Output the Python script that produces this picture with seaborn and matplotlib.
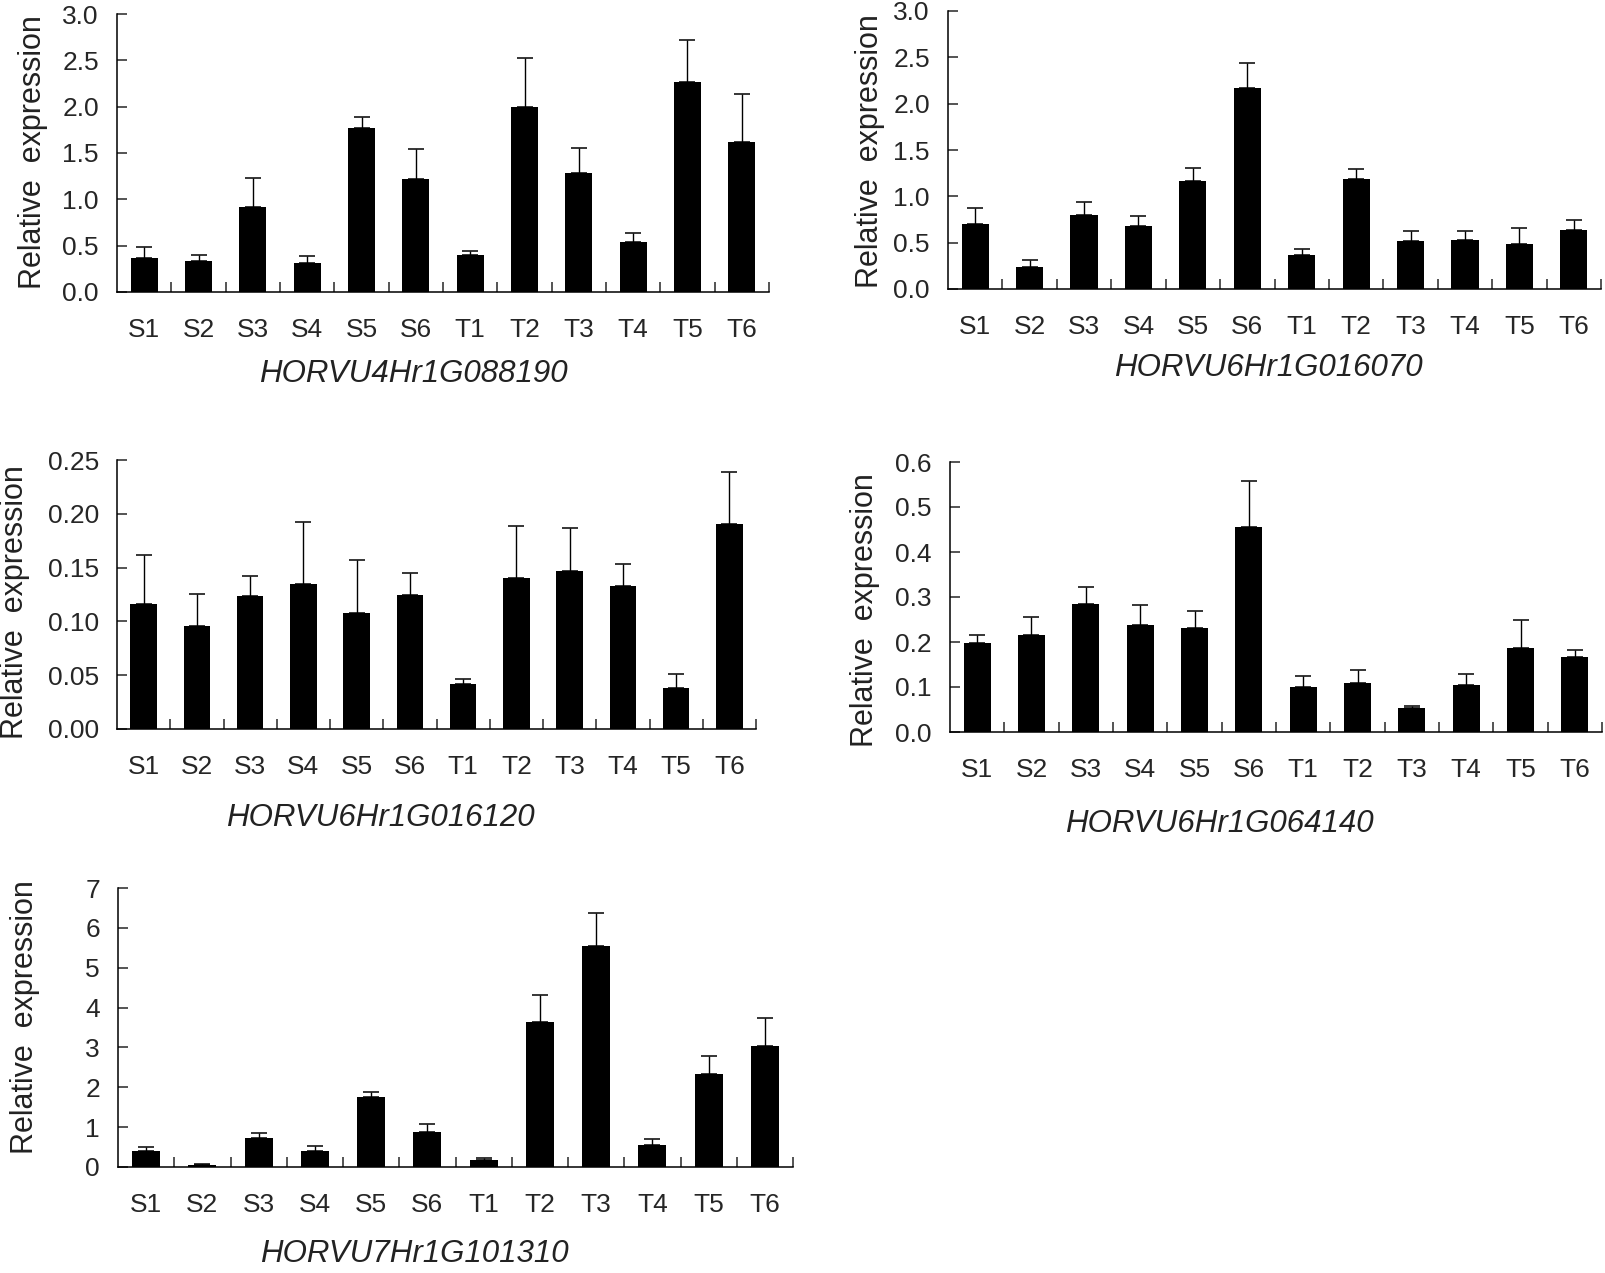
import numpy as np
import matplotlib
matplotlib.use("Agg")
import matplotlib.pyplot as plt
import seaborn as sns

sns.set_style("ticks")
plt.rcParams['font.family'] = ['Liberation Sans', 'DejaVu Sans']

# sample names shared by all panels
samples = ['S1', 'S2', 'S3', 'S4', 'S5', 'S6', 'T1', 'T2', 'T3', 'T4', 'T5', 'T6']

# HORVU4Hr1G088190
g1_mean = [0.365, 0.333, 0.913, 0.312, 1.772, 1.217, 0.397, 1.998, 1.289, 0.537, 2.270, 1.622]
g1_sd = [0.120, 0.070, 0.320, 0.075, 0.120, 0.330, 0.047, 0.530, 0.270, 0.100, 0.445, 0.510]

# HORVU6Hr1G016070
g2_mean = [0.700, 0.240, 0.797, 0.675, 1.163, 2.174, 0.370, 1.184, 0.513, 0.531, 0.484, 0.639]
g2_sd = [0.175, 0.070, 0.145, 0.115, 0.140, 0.260, 0.065, 0.110, 0.110, 0.100, 0.170, 0.107]

# HORVU6Hr1G016120
g3_mean = [0.116, 0.0955, 0.1236, 0.1347, 0.1075, 0.1242, 0.042, 0.140, 0.147, 0.1332, 0.0377, 0.1904]
g3_sd = [0.046, 0.030, 0.019, 0.058, 0.050, 0.021, 0.0044, 0.049, 0.040, 0.020, 0.0136, 0.0485]

# HORVU6Hr1G064140
g4_mean = [0.198, 0.215, 0.285, 0.237, 0.232, 0.455, 0.100, 0.110, 0.053, 0.104, 0.186, 0.166]
g4_sd = [0.017, 0.040, 0.037, 0.046, 0.036, 0.102, 0.025, 0.027, 0.005, 0.024, 0.062, 0.016]

# HORVU7Hr1G101310
g5_mean = [0.41, 0.04, 0.735, 0.41, 1.746, 0.886, 0.175, 3.64, 5.556, 0.56, 2.34, 3.04]
g5_sd = [0.08, 0.03, 0.115, 0.12, 0.125, 0.19, 0.05, 0.67, 0.82, 0.14, 0.44, 0.69]

W, H = 1605, 1273
fig = plt.figure(figsize=(W / 100, H / 100), dpi=100)


def px_axes(left, top, right, bottom):
    return fig.add_axes([left / W, 1 - bottom / H, (right - left) / W, (bottom - top) / H])


def draw_panel(ax, means, sds, yticks, fmt, title, title_xy, ylab_xy):
    sns.barplot(x=samples, y=means, color='black', saturation=1, width=0.5,
                errorbar=None, ax=ax, edgecolor='none')
    x = np.arange(len(samples))
    ax.errorbar(x, means, yerr=[np.zeros(len(means)), sds], fmt='none',
                ecolor='black', elinewidth=1.0, capsize=6, capthick=1.1)
    ax.set_xlim(-0.5, len(samples) - 0.5)
    ax.set_ylim(yticks[0], yticks[-1])
    ax.set_yticks(yticks)
    ax.set_yticklabels([fmt.format(v) for v in yticks])
    ax.set_xticks(x + 0.5, minor=True)
    ax.tick_params(axis='x', which='major', length=0, pad=19, labelsize=19)
    ax.tick_params(axis='x', which='minor', direction='in', length=7, width=1.1)
    ax.tick_params(axis='y', direction='in', length=7, width=1.1, pad=13, labelsize=19)
    sns.despine(ax=ax)
    for s in ['left', 'bottom']:
        ax.spines[s].set_linewidth(1.1)
        ax.spines[s].set_color('black')
    ax.set_xlabel('')
    ax.set_ylabel('')
    fig.text(ylab_xy[0] / W, 1 - ylab_xy[1] / H, 'Relative  expression', rotation=90,
             ha='center', va='center', fontsize=22, color='#222222')
    fig.text(title_xy[0] / W, 1 - title_xy[1] / H, title, style='italic',
             ha='center', va='center', fontsize=22.5, color='#222222')


ax1 = px_axes(117, 14, 769, 292)
draw_panel(ax1, g1_mean, g1_sd, np.arange(0, 3.01, 0.5), '{:.1f}',
           'HORVU4Hr1G088190', (413, 374), (33, 152))

ax2 = px_axes(948, 11, 1601, 289)
draw_panel(ax2, g2_mean, g2_sd, np.arange(0, 3.01, 0.5), '{:.1f}',
           'HORVU6Hr1G016070', (1268, 368), (870, 151))

ax3 = px_axes(117, 460, 756, 729)
draw_panel(ax3, g3_mean, g3_sd, np.arange(0, 0.2501, 0.05), '{:.2f}',
           'HORVU6Hr1G016120', (380, 818), (15, 602))

ax4 = px_axes(950, 462, 1602, 732)
draw_panel(ax4, g4_mean, g4_sd, np.arange(0, 0.601, 0.1), '{:.1f}',
           'HORVU6Hr1G064140', (1219, 824), (865, 610))

ax5 = px_axes(118, 888, 793, 1167)
draw_panel(ax5, g5_mean, g5_sd, np.arange(0, 7.01, 1), '{:.0f}',
           'HORVU7Hr1G101310', (414, 1254), (25, 1017))

fig.savefig('out.png', dpi=100)
